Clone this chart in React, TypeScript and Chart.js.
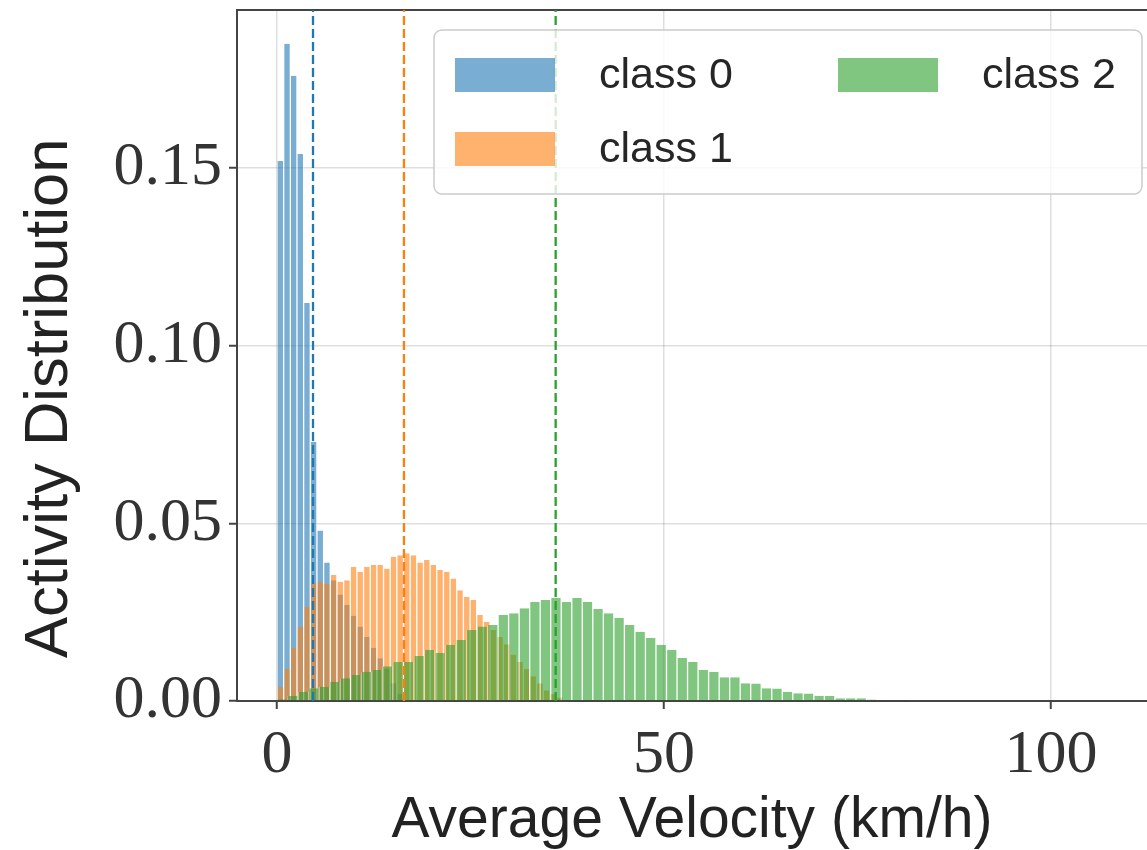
import React, { useEffect, useRef } from 'react';
import { Chart, registerables } from 'chart.js';

Chart.register(...registerables);

// ---------------- data ----------------
const seriesLabels = ['class 0', 'class 1', 'class 2'];

// histogram bin widths (km/h); bins start at 0
const class0BinWidth = 0.86;
const class1BinWidth = 0.86;
const class2BinWidth = 1.36;

// density per bin
const class0Density = [
  0.152, 0.185, 0.176, 0.154, 0.112, 0.073, 0.048, 0.039, 0.034, 0.030,
  0.027, 0.024, 0.021, 0.018, 0.015, 0.012, 0.009, 0.005, 0.002,
];
const class1Density = [
  0.004, 0.009, 0.015, 0.021, 0.0265, 0.033, 0.0336, 0.033, 0.0355, 0.0336,
  0.034, 0.0378, 0.0364, 0.0378, 0.0383, 0.0383, 0.0373, 0.0406, 0.041, 0.0416,
  0.041, 0.039, 0.0397, 0.0383, 0.0369, 0.0364, 0.0345, 0.0312, 0.0293, 0.0284,
  0.0242, 0.0223, 0.020, 0.018, 0.016, 0.013, 0.011, 0.009, 0.007, 0.005,
  0.003, 0.002, 0.001,
];
const class2Density = [
  0.0005, 0.0014, 0.0026, 0.0036, 0.0040, 0.0054, 0.0064, 0.0073, 0.0082, 0.0087,
  0.0098, 0.0110, 0.0110, 0.0127, 0.0144, 0.0136, 0.0158, 0.0172, 0.0200, 0.0210,
  0.0214, 0.0242, 0.0247, 0.0261, 0.0279, 0.0284, 0.0290, 0.0279, 0.0290, 0.0279,
  0.0259, 0.0247, 0.0234, 0.0214, 0.0195, 0.0177, 0.0158, 0.0144, 0.0121, 0.0110,
  0.0087, 0.0082, 0.0067, 0.0067, 0.0050, 0.0049, 0.0036, 0.0035, 0.0026, 0.0022,
  0.0021, 0.0015, 0.0015, 0.0008, 0.0008, 0.0008, 0.0004, 0.0003, 0.0002, 0.0002,
  0.0001,
];

// mean velocity of each class (dashed lines)
const classMeans = [4.65, 16.4, 36.0];

const xTickValues = [0, 50, 100];
const yTickValues = [0, 0.05, 0.1, 0.15];
const xRange = [-5.17, 112.4];
const yRange = [0, 0.1945];

const xTitle = 'Average Velocity (km/h)';
const yTitle = 'Activity Distribution';

// ---------------- legend plugin ----------------
const columnLegend: any = {
  id: 'columnLegend',
  afterDatasetsDraw(chart: any, _args: any, opts: any) {
    const { ctx } = chart;
    const b = opts.box;
    ctx.save();
    ctx.beginPath();
    const r = b.radius;
    ctx.moveTo(b.x + r, b.y);
    ctx.lineTo(b.x + b.w - r, b.y);
    ctx.arcTo(b.x + b.w, b.y, b.x + b.w, b.y + r, r);
    ctx.lineTo(b.x + b.w, b.y + b.h - r);
    ctx.arcTo(b.x + b.w, b.y + b.h, b.x + b.w - r, b.y + b.h, r);
    ctx.lineTo(b.x + r, b.y + b.h);
    ctx.arcTo(b.x, b.y + b.h, b.x, b.y + b.h - r, r);
    ctx.lineTo(b.x, b.y + r);
    ctx.arcTo(b.x, b.y, b.x + r, b.y, r);
    ctx.closePath();
    ctx.fillStyle = 'rgba(255,255,255,0.8)';
    ctx.fill();
    ctx.lineWidth = 1.5;
    ctx.strokeStyle = '#cccccc';
    ctx.stroke();

    ctx.font = opts.font;
    ctx.textBaseline = 'middle';
    ctx.textAlign = 'left';
    opts.items.forEach((it: any) => {
      const ds = chart.data.datasets[it.datasetIndex];
      ctx.fillStyle = ds.backgroundColor;
      ctx.fillRect(it.x, it.y, opts.patchW, opts.patchH);
      ctx.fillStyle = opts.color;
      ctx.fillText(ds.label, it.x + opts.textGap, it.y + opts.patchH / 2 + 1);
    });
    ctx.restore();
  },
};

export default function App() {
  const canvasRef = useRef<HTMLCanvasElement>(null);

  useEffect(() => {
    const canvas = canvasRef.current;
    if (!canvas) return;

    const fills = ['rgba(31,119,180,0.6)', 'rgba(255,127,14,0.6)', 'rgba(44,160,44,0.6)'];
    const lineColors = ['#1f77b4', '#ff7f0e', '#2ca02c'];
    const axisColor = '#444444';
    const gridColor = 'rgba(0,0,0,0.13)';

    const toBins = (vals: number[], w: number) => vals.map((v, i) => ({ x: (i + 0.5) * w, y: v }));

    const hists = [
      { vals: class0Density, w: class0BinWidth, axis: 'x0', order: 3 },
      { vals: class1Density, w: class1BinWidth, axis: 'x1', order: 2 },
      { vals: class2Density, w: class2BinWidth, axis: 'x2', order: 1 },
    ];

    const histDatasets = hists.map((h, k) => ({
      type: 'bar',
      label: seriesLabels[k],
      data: toBins(h.vals, h.w),
      xAxisID: h.axis,
      yAxisID: 'y',
      backgroundColor: fills[k],
      borderColor: 'rgba(255,255,255,0.75)',
      borderWidth: { left: 0.65, right: 0.65, top: 0, bottom: 0 },
      borderSkipped: false,
      inflateAmount: 0,
      barPercentage: 1,
      categoryPercentage: 1,
      grouped: false,
      order: h.order,
    }));

    const meanDatasets = classMeans.map((m, k) => ({
      type: 'line',
      label: 'mean ' + seriesLabels[k],
      data: [
        { x: m, y: yRange[0] },
        { x: m, y: yRange[1] },
      ],
      xAxisID: 'x',
      yAxisID: 'y',
      borderColor: lineColors[k],
      borderWidth: 2.3,
      borderDash: [9, 4],
      pointRadius: 0,
      fill: false,
      order: 0,
    }));

    const hiddenX = {
      type: 'linear',
      display: false,
      min: xRange[0],
      max: xRange[1],
      offset: false,
      grid: { offset: false },
      ticks: { stepSize: 50, includeBounds: false },
    };

    const gridOpts = {
      offset: false,
      color: gridColor,
      lineWidth: 1.5,
      drawTicks: true,
      tickLength: 8,
      tickColor: axisColor,
      tickWidth: 2,
    };

    const chart = new Chart(canvas, {
      type: 'bar',
      data: { datasets: [...histDatasets, ...meanDatasets] as any },
      options: {
        responsive: false,
        animation: false,
        devicePixelRatio: 1,
        layout: { padding: 0 },
        scales: {
          x: {
            type: 'linear',
            position: 'bottom',
            min: xRange[0],
            max: xRange[1],
            offset: false,
            afterBuildTicks: (s: any) => {
              s.ticks = xTickValues.map((v) => ({ value: v }));
            },
            afterFit: (s: any) => {
              s.height = 149;
              s.paddingLeft = 0;
              s.paddingRight = 0;
            },
            grid: gridOpts,
            border: { display: true, color: axisColor, width: 2 },
            ticks: {
              font: { family: 'Liberation Serif', size: 62 },
              color: '#333333',
              padding: 10,
              maxRotation: 0,
              autoSkip: false,
              callback: (v: any) => String(v),
            },
            title: {
              display: true,
              text: xTitle,
              color: '#222222',
              font: { family: 'Liberation Sans', size: 57, lineHeight: 1 },
              padding: { top: 0, bottom: 0 },
            },
          },
          xTop: {
            type: 'linear',
            position: 'top',
            min: xRange[0],
            max: xRange[1],
            offset: false,
            afterFit: (s: any) => {
              s.height = 10;
              s.paddingLeft = 0;
              s.paddingRight = 0;
            },
            grid: { display: false, drawTicks: false },
            ticks: { display: false },
            border: { display: true, color: axisColor, width: 2 },
          },
          x0: hiddenX,
          x1: hiddenX,
          x2: hiddenX,
          y: {
            type: 'linear',
            position: 'left',
            min: yRange[0],
            max: yRange[1],
            afterBuildTicks: (s: any) => {
              s.ticks = yTickValues.map((v) => ({ value: v }));
            },
            afterFit: (s: any) => {
              s.width = 237;
              s.paddingTop = 0;
              s.paddingBottom = 0;
            },
            grid: gridOpts,
            border: { display: true, color: axisColor, width: 2 },
            ticks: {
              font: { family: 'Liberation Serif', size: 62 },
              color: '#333333',
              padding: 7,
              callback: (v: any) => Number(v).toFixed(2),
            },
            title: {
              display: true,
              text: yTitle + '     ',
              color: '#222222',
              font: { family: 'Liberation Sans', size: 61.5, lineHeight: 1 },
              padding: { top: 19, bottom: 0 },
            },
          },
        } as any,
        plugins: {
          legend: { display: false },
          tooltip: { enabled: false },
          columnLegend: {
            box: { x: 434, y: 30, w: 708, h: 164, radius: 8 },
            patchW: 100,
            patchH: 34,
            textGap: 144,
            font: '43px "Liberation Sans"',
            color: '#262626',
            items: [
              { datasetIndex: 0, x: 455, y: 58 },
              { datasetIndex: 1, x: 455, y: 132 },
              { datasetIndex: 2, x: 838, y: 58 },
            ],
          },
        } as any,
      },
      plugins: [columnLegend],
    } as any);

    return () => chart.destroy();
  }, []);

  return (
    <div style={{ position: 'absolute', left: 0, top: 0, width: 1147, height: 850, background: '#ffffff' }}>
      <canvas ref={canvasRef} width={1147} height={850} style={{ display: 'block' }} />
    </div>
  );
}
